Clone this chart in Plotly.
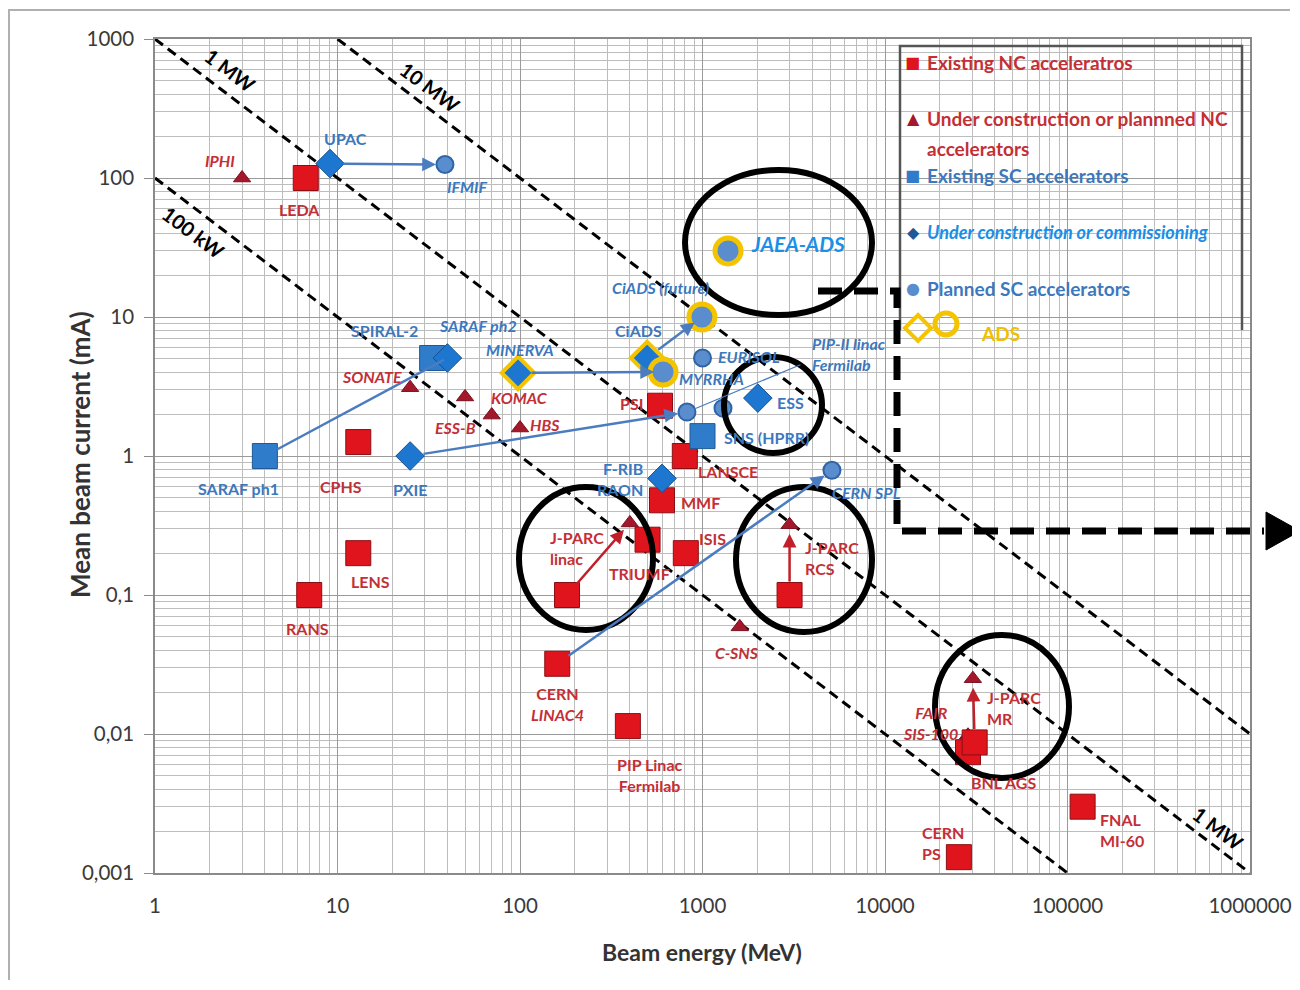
import numpy as np
import plotly.graph_objects as go

# ---------------- data (beam energy MeV, mean beam current mA) ----------------
# Existing NC accelerators (red squares)
nc_names = ["LEDA", "CPHS", "LENS", "RANS", "PSI", "LANSCE", "MMF", "TRIUMF", "ISIS",
            "J-PARC linac", "J-PARC RCS", "CERN LINAC4", "PIP Linac Fermilab",
            "BNL AGS", "J-PARC MR", "FNAL MI-60", "CERN PS"]
nc_energy = [6.7, 13, 13, 7.0, 585, 800, 600, 500, 810, 181, 3000, 160, 390,
             28500, 31000, 121000, 25400]
nc_current = [100, 1.26, 0.2, 0.1, 2.3, 1.0, 0.48, 0.25, 0.2, 0.1, 0.1, 0.032, 0.0114,
              0.0074, 0.0087, 0.003, 0.0013]

# Under construction or planned NC accelerators (red triangles)
ncp_names = ["IPHI", "SONATE", "ESS-B", "KOMAC", "HBS", "J-PARC linac upg.",
             "J-PARC RCS upg.", "C-SNS", "FAIR SIS-100", "J-PARC MR upg."]
ncp_energy = [3.0, 25, 50, 70, 100, 400, 3000, 1600, 28500, 30300]
ncp_current = [100, 3.1, 2.66, 1.97, 1.59, 0.33, 0.32, 0.059, 0.0098, 0.025]

# Existing SC accelerators (blue squares)
sc_names = ["SARAF ph1", "SPIRAL-2", "SNS (HPRR)"]
sc_energy = [4.0, 33, 1000]
sc_current = [1.0, 5.07, 1.39]

# Under construction or commissioning (blue diamonds)
scu_names = ["UPAC", "SARAF ph2", "MINERVA", "CiADS", "PXIE", "F-RIB", "ESS"]
scu_energy = [9.1, 40, 97.5, 497, 25, 600, 2010]
scu_current = [127, 5.07, 3.96, 5.07, 1.0, 0.69, 2.61]
scu_ads = [False, False, True, True, False, False, False]

# Planned SC accelerators (blue circles)
scp_names = ["IFMIF", "CiADS (future)", "EURISOL", "MYRRHA", "PIP-II linac",
             "SNS upgrade", "CERN SPL", "JAEA-ADS"]
scp_energy = [38.8, 993, 1000, 608, 822, 1295, 5120, 1380]
scp_current = [125, 10, 5.07, 4.02, 2.07, 2.21, 0.79, 29.9]
scp_ads = [False, True, False, True, False, False, False, True]

# Iso-power reference lines (end points)
pw_100kw_E, pw_100kw_I = [1, 1e5], [100, 0.001]
pw_1mw_E, pw_1mw_I = [1, 1e6], [1000, 0.001]
pw_10mw_E, pw_10mw_I = [10, 1e6], [1000, 0.01]

# Upgrade paths (from -> to, arrow head shown)
blue_paths = [("UPAC", "IFMIF", True), ("SARAF ph1", "SARAF ph2", False),
              ("PXIE", "PIP-II linac", True), ("MINERVA", "MYRRHA", True),
              ("CiADS", "CiADS (future)", True), ("CERN LINAC4", "CERN SPL", True)]
red_paths = [("J-PARC linac", "J-PARC linac upg.", True), ("J-PARC RCS", "J-PARC RCS upg.", True),
             ("J-PARC MR", "J-PARC MR upg.", True)]

x_ticks = [1, 10, 100, 1000, 10000, 100000, 1000000]
x_ticktext = ["1", "10", "100", "1000", "10000", "100000", "1000000"]
y_ticks = [0.001, 0.01, 0.1, 1, 10, 100, 1000]
y_ticktext = ["0,001", "0,01", "0,1", "1", "10", "100", "1000"]

# ---------------- styles ----------------
FONT = "Lato, 'Open Sans', sans-serif"
RED_TXT = "#c42f36"
BLUE_TXT = "#3c78bd"
GOLD = "#f5c400"
RED_FILL, RED_EDGE = "#e0141c", "#8a0f14"
TRI_FILL = "#a3182a"
BSQ_FILL, B_EDGE = "#2f7cca", "#1f5a96"
DIA_FILL = "#1d76cf"
CIR_FILL = "#5a8dcd"

# label placement: name -> (dx px, dy px (down), xanchor, text)
label_pos = {
    "LEDA": (-6, 31, "center", "LEDA"), "CPHS": (-17, 44, "center", "CPHS"),
    "LENS": (12, 28, "center", "LENS"), "RANS": (-2, 33, "center", "RANS"),
    "PSI": (-29, -2, "center", "PSI"), "LANSCE": (43, 15, "center", "LANSCE"),
    "MMF": (38, 2, "center", "MMF"), "TRIUMF": (-8, 34, "center", "TRIUMF"),
    "ISIS": (27, -15, "center", "ISIS"),
    "J-PARC linac": (-19, -47, "left", "J-PARC<br>linac"),
    "J-PARC RCS": (13, -37, "left", "J-PARC<br>RCS"),
    "CERN LINAC4": (0, 40, "center", "CERN<br><i>LINAC4</i>"),
    "PIP Linac Fermilab": (22, 49, "center", "PIP Linac<br>Fermilab"),
    "BNL AGS": (35, 30, "center", "BNL AGS"),
    "J-PARC MR": (10, -34, "left", "J-PARC<br>MR"),
    "FNAL MI-60": (15, 23, "left", "FNAL<br>MI-60"),
    "CERN PS": (-39, -14, "left", "CERN<br>PS"),
    "IPHI": (-22, -18, "center", "<i>IPHI</i>"), "SONATE": (-38, -11, "center", "<i>SONATE</i>"),
    "ESS-B": (-10, 31, "center", "<i>ESS-B</i>"), "KOMAC": (28, -18, "center", "<i>KOMAC</i>"),
    "HBS": (25, -4, "center", "<i>HBS</i>"), "C-SNS": (-3, 26, "center", "<i>C-SNS</i>"),
    "FAIR SIS-100": (-38, -12, "center", "<i>FAIR<br>SIS-100</i>"),
    "SARAF ph1": (-26, 32, "center", "SARAF ph1"), "SPIRAL-2": (-48, -28, "center", "SPIRAL-2"),
    "SNS (HPRR)": (19, 1, "left", "SNS (HPRR)"),
    "UPAC": (15, -25, "center", "UPAC"), "SARAF ph2": (31, -33, "center", "<i>SARAF ph2</i>"),
    "MINERVA": (2, -23, "center", "<i>MINERVA</i>"), "CiADS": (-9, -28, "center", "CiADS"),
    "PXIE": (0, 33, "center", "PXIE"), "F-RIB": (-17, 1, "right", "F-RIB<br>RAON"),
    "ESS": (17, 4, "left", "ESS"),
    "IFMIF": (23, 22, "center", "<i>IFMIF</i>"),
    "CiADS (future)": (-92, -30, "left", "<i>CiADS (future)</i>"),
    "EURISOL": (13, -2, "left", "<i>EURISOL</i>"), "MYRRHA": (14, 6, "left", "<i>MYRRHA</i>"),
    "PIP-II linac": (123, -58, "left", "<i>PIP-II linac<br>Fermilab</i>"),
    "CERN SPL": (-2, 22, "left", "<i>CERN SPL</i>"),
}

# The page body has an 8 px margin; the figure is sized so the plot area
# lands on the reference pixels (page coords) without scrollbars.
OFF = 8
W, H = 1284, 974
L, R, T, B = 155, 1250, 39, 873          # plot area in page pixels


def pxx(x):
    return (x - L) / (R - L)


def pxy(y):
    return (B - y) / (B - T)


def paper_text(x, y, text, font, **kw):
    opts = dict(xanchor="center", yanchor="middle")
    opts.update(kw)
    fig.add_annotation(x=pxx(x), y=pxy(y), xref="paper", yref="paper", text=text,
                       showarrow=False, font=font, **opts)


fig = go.Figure()

# iso-power lines
for E, I in [(pw_100kw_E, pw_100kw_I), (pw_1mw_E, pw_1mw_I), (pw_10mw_E, pw_10mw_I)]:
    fig.add_trace(go.Scatter(x=E, y=I, mode="lines", showlegend=False, hoverinfo="skip",
                             line=dict(color="black", width=3, dash="10px,6px")))

# markers
fig.add_trace(go.Scatter(x=ncp_energy, y=ncp_current, mode="markers", name="NC planned",
                         marker=dict(symbol="triangle-up", size=15, color=TRI_FILL, opacity=1,
                                     line=dict(color="#7a1020", width=1))))
fig.add_trace(go.Scatter(x=nc_energy, y=nc_current, mode="markers", name="NC existing",
                         marker=dict(symbol="square", size=25, color=RED_FILL, opacity=1,
                                     line=dict(color=RED_EDGE, width=1))))
fig.add_trace(go.Scatter(x=sc_energy, y=sc_current, mode="markers", name="SC existing",
                         marker=dict(symbol="square", size=25, color=BSQ_FILL, opacity=1,
                                     line=dict(color=B_EDGE, width=1))))
fig.add_trace(go.Scatter(x=scu_energy, y=scu_current, mode="markers", name="SC construction",
                         marker=dict(symbol="diamond", size=[25 if a else 22 for a in scu_ads],
                                     color=DIA_FILL, opacity=1,
                                     line=dict(color=[GOLD if a else "#17508c" for a in scu_ads],
                                               width=[4 if a else 1 for a in scu_ads]))))
fig.add_trace(go.Scatter(x=scp_energy, y=scp_current, mode="markers", name="SC planned",
                         marker=dict(symbol="circle", size=[26 if a else 17 for a in scp_ads],
                                     color=CIR_FILL, opacity=1,
                                     line=dict(color=[GOLD if a else "#2f64a6" for a in scp_ads],
                                               width=[5 if a else 2 for a in scp_ads]))))

# lookup of all points
pts = {}
for names, E, I in [(nc_names, nc_energy, nc_current), (ncp_names, ncp_energy, ncp_current),
                    (sc_names, sc_energy, sc_current), (scu_names, scu_energy, scu_current),
                    (scp_names, scp_energy, scp_current)]:
    for n, e, i in zip(names, E, I):
        pts[n] = (e, i)

# upgrade arrows
for paths, col in [(blue_paths, "#4a7cbf"), (red_paths, "#c0202a")]:
    for a, b, head in paths:
        (e0, i0), (e1, i1) = pts[a], pts[b]
        fig.add_annotation(x=np.log10(e1), y=np.log10(i1), ax=np.log10(e0), ay=np.log10(i0),
                           xref="x", yref="y", axref="x", ayref="y", text="",
                           showarrow=True, arrowhead=2 if head else 0, arrowsize=1.1,
                           arrowwidth=2.5, arrowcolor=col, standoff=9 if head else 4,
                           startstandoff=12)

# leader line for PIP-II label
e, i = pts["PIP-II linac"]
fig.add_annotation(x=np.log10(e), y=np.log10(i), ax=115, ay=-48, axref="pixel", ayref="pixel",
                   text="", showarrow=True, arrowhead=0, arrowwidth=1.2, arrowcolor="#4a7cbf",
                   standoff=8)

# point labels
red_set = set(nc_names) | set(ncp_names)
for name, (dx, dy, anc, txt) in label_pos.items():
    e, i = pts[name]
    fig.add_annotation(x=np.log10(e), y=np.log10(i), xref="x", yref="y", text=txt,
                       showarrow=False, xanchor=anc, yanchor="middle", xshift=dx, yshift=-dy,
                       align=anc,
                       font=dict(family=FONT, size=16, weight="bold",
                                 color=RED_TXT if name in red_set else BLUE_TXT))

e, i = pts["JAEA-ADS"]
fig.add_annotation(x=np.log10(e), y=np.log10(i), xref="x", yref="y",
                   text="<b><i>JAEA-ADS</i></b>", showarrow=False, xanchor="left",
                   yanchor="middle", xshift=21, yshift=7,
                   font=dict(family=FONT, size=21, color="#1a90e8"))

# power labels
for txt, x, y in [("1 MW", 230, 70), ("10 MW", 430, 87), ("100 kW", 193, 232), ("1 MW", 1218, 828)]:
    paper_text(x, y, f"<b>{txt}</b>", dict(family=FONT, size=20, color="black"), textangle=37)

# legend box
fig.add_shape(type="rect", xref="paper", yref="paper", x0=pxx(900), x1=pxx(1242),
              y0=pxy(356), y1=pxy(46), fillcolor="white", line=dict(width=0), layer="between")
fig.add_shape(type="path", xref="paper", yref="paper",
              path=f"M {pxx(900)},{pxy(330)} L {pxx(900)},{pxy(46)} L {pxx(1242)},{pxy(46)} L {pxx(1242)},{pxy(330)}",
              line=dict(color="#555555", width=2.5))

legend_items = [
    ("■", RED_FILL, 912, 62, "Existing NC acceleratros", RED_TXT, 19, False),
    ("▲", TRI_FILL, 913, 119, "Under construction or plannned NC", RED_TXT, 19, False),
    ("", RED_TXT, 913, 149, "accelerators", RED_TXT, 19, False),
    ("■", BSQ_FILL, 912, 176, "Existing SC accelerators", BLUE_TXT, 19, False),
    ("◆", "#1f5a96", 913, 232, "Under construction or commissioning", "#1a8ee6", 18, True),
    ("●", CIR_FILL, 913, 288, "Planned SC accelerators", BLUE_TXT, 19, False),
]
for sym, scol, x, y, txt, tcol, fs, ital in legend_items:
    if sym:
        paper_text(x, y, sym, dict(family="DejaVu Sans", size=16, color=scol))
    paper_text(925, y, f"<i>{txt}</i>" if ital else txt,
               dict(family=FONT, size=fs, weight="bold", color=tcol), xanchor="left")
# ADS legend symbols (gold diamond + ring)
dcx, dcy, dr = 918, 328, 13
fig.add_shape(type="path", xref="paper", yref="paper",
              path=(f"M {pxx(dcx)},{pxy(dcy - dr)} L {pxx(dcx + dr)},{pxy(dcy)} "
                    f"L {pxx(dcx)},{pxy(dcy + dr)} L {pxx(dcx - dr)},{pxy(dcy)} Z"),
              line=dict(color=GOLD, width=4), layer="above")
fig.add_shape(type="circle", xref="paper", yref="paper", x0=pxx(935), x1=pxx(957),
              y0=pxy(335), y1=pxy(313), line=dict(color=GOLD, width=5), layer="above")
paper_text(1000, 333, "ADS", dict(family=FONT, size=19, weight="bold", color="#f0c000"))

# highlight ellipses
for x0, x1, y0, y1 in [(685, 872, 170, 315), (724, 822, 357, 453), (519, 653, 487, 630),
                       (736, 872, 487, 632), (935, 1069, 635, 778)]:
    fig.add_shape(type="circle", xref="paper", yref="paper", x0=pxx(x0), x1=pxx(x1),
                  y0=pxy(y1), y1=pxy(y0), line=dict(color="black", width=6), layer="above")

# big dashed arrow
fig.add_shape(type="path", xref="paper", yref="paper",
              path=f"M {pxx(818)},{pxy(291)} L {pxx(897)},{pxy(291)} L {pxx(897)},{pxy(531)} L {pxx(1264)},{pxy(531)}",
              line=dict(color="black", width=7, dash="24px,12px"), layer="above")
fig.add_shape(type="path", xref="paper", yref="paper",
              path=f"M {pxx(1266)},{pxy(512)} L {pxx(1300)},{pxy(531)} L {pxx(1266)},{pxy(550)} Z",
              fillcolor="black", line=dict(color="black", width=1), layer="above")

# outer frame
fig.add_shape(type="path", xref="paper", yref="paper",
              path=f"M {pxx(9)},{pxy(980)} L {pxx(9)},{pxy(10)} L {pxx(1290)},{pxy(10)}",
              line=dict(color="#b0b0b0", width=2))

# axis titles
paper_text(702, 952, "<b>Beam energy (MeV)</b>", dict(family=FONT, size=23, color="#333333"))
paper_text(80, 455, "<b>Mean beam current (mA)</b>", dict(family=FONT, size=26, color="#333333"),
           textangle=-90)

axis_common = dict(type="log", showgrid=True, gridcolor="#9a9a9a", gridwidth=1.2,
                   showline=True, linecolor="#8a8a8a", linewidth=1.5, mirror=True,
                   zeroline=False, automargin=False,
                   tickfont=dict(family=FONT, size=20.5, color="#3a3a3a"),
                   minor=dict(dtick="D1", showgrid=True, gridcolor="#bdbdbd", gridwidth=1))
fig.update_xaxes(**axis_common, range=[0, 6], tickmode="array", tickvals=x_ticks,
                 ticktext=x_ticktext, ticks="", ticklabelstandoff=14,
                 ticklabeloverflow="allow")
fig.update_yaxes(**axis_common, range=[-3, 3], tickmode="array", tickvals=y_ticks,
                 ticktext=y_ticktext, ticks="outside", ticklen=9, tickcolor="#8a8a8a",
                 ticklabelstandoff=6)

fig.update_layout(width=W, height=H, showlegend=False, autosize=False,
                  margin=dict(l=L - OFF, r=(W + OFF) - R, t=T - OFF, b=(H + OFF) - B,
                              autoexpand=False),
                  plot_bgcolor="white", paper_bgcolor="white")

fig.write_html("out.html")
